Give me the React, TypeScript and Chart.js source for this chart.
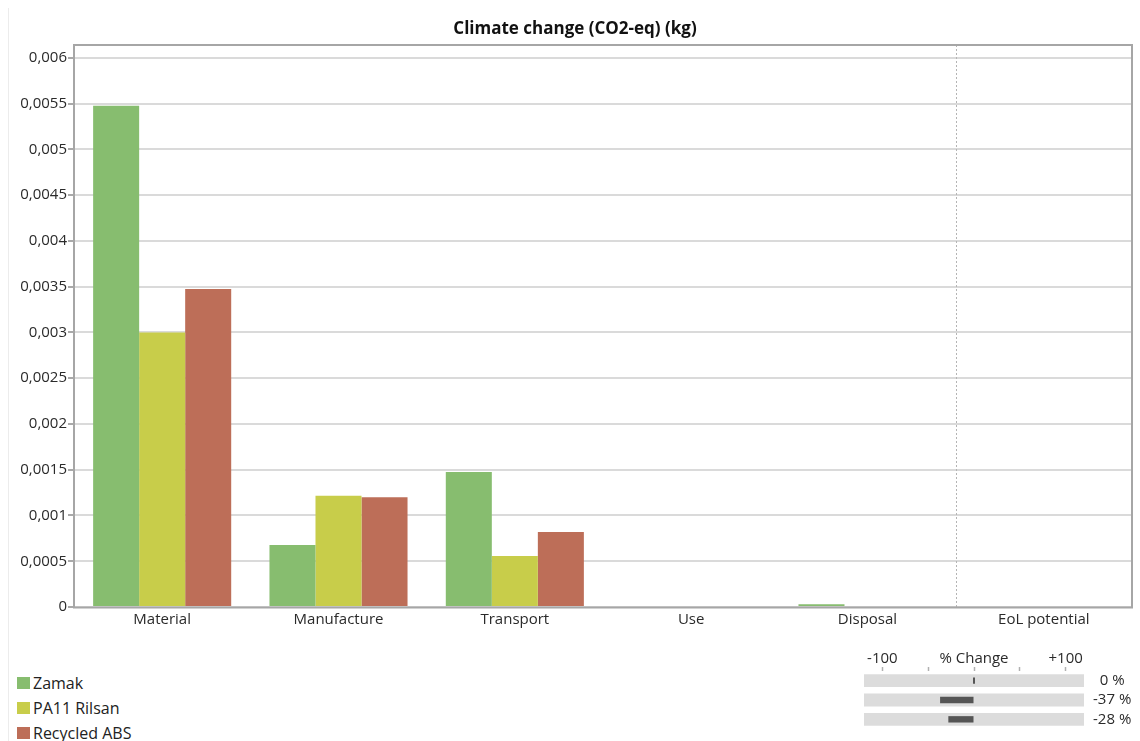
import React, { useEffect, useRef } from "react";
import { Chart, registerables } from "chart.js";

Chart.register(...registerables);

const categories = ["Material", "Manufacture", "Transport", "Use", "Disposal", "EoL potential"];
const seriesNames = ["Zamak", "PA11 Rilsan", "Recycled ABS"];
const zamak = [0.005475, 0.000678, 0.001475, 0, 0.00003, 0];
const pa11 = [0.003, 0.001216, 0.000557, 0, 0, 0];
const recycledAbs = [0.003475, 0.0012, 0.00082, 0, 0, 0];
const seriesColors = ["#87bd6f", "#c8cd4a", "#bd6e58"];
const changePct = [0, -37, -28];
const changeTicks = [-100, -50, 0, 50, 100];

const FONT = "'Open Sans', 'Noto Sans', sans-serif";

const borderPlugin = {
  id: "plotBorder",
  beforeDatasetsDraw(chart: any) {
    const { ctx, chartArea, scales } = chart;
    const x = scales.x;
    const sep = (x.getPixelForValue(4) + x.getPixelForValue(5)) / 2;
    ctx.save();
    ctx.strokeStyle = "#b4b4b4";
    ctx.lineWidth = 1;
    ctx.setLineDash([2, 2]);
    ctx.beginPath();
    ctx.moveTo(Math.round(sep) + 0.5, chartArea.top);
    ctx.lineTo(Math.round(sep) + 0.5, chartArea.bottom);
    ctx.stroke();
    ctx.restore();
  },
  afterDraw(chart: any) {
    const { ctx, chartArea } = chart;
    ctx.save();
    ctx.strokeStyle = "#a6a6a6";
    ctx.lineWidth = 2;
    ctx.strokeRect(chartArea.left, chartArea.top, chartArea.right - chartArea.left, chartArea.bottom - chartArea.top + 0.5);
    ctx.restore();
  },
};

function fmt(v: number) {
  if (v === 0) return "0";
  return String(Number(v.toFixed(4))).replace(".", ",");
}

export default function App() {
  const mainRef = useRef<HTMLCanvasElement>(null);
  const pctRef = useRef<HTMLCanvasElement>(null);

  useEffect(() => {
    document.body.style.margin = "0";
    const seriesData = [zamak, pa11, recycledAbs];
    const main = new Chart(mainRef.current!, {
      type: "bar",
      data: {
        labels: categories,
        datasets: seriesNames.map((n, i) => ({
          label: n,
          data: seriesData[i],
          backgroundColor: seriesColors[i],
          borderWidth: 0,
          barPercentage: 1,
          categoryPercentage: 0.783,
        })),
      },
      options: {
        animation: false,
        responsive: false,
        maintainAspectRatio: false,
        layout: { padding: { left: 18, right: 8, top: 0, bottom: 0 } },
        plugins: {
          legend: { display: false },
          tooltip: { enabled: false },
          title: {
            display: true,
            text: "Climate change (CO2-eq) (kg)",
            color: "#111111",
            font: { family: FONT, size: 17, weight: "bold", lineHeight: 1.2 },
            padding: { top: 19, bottom: 5.6 },
          },
        },
        scales: {
          x: {
            grid: { display: false, drawTicks: false },
            border: { display: false },
            ticks: { color: "#2a2a2a", font: { family: FONT, size: 15 }, padding: 4, maxRotation: 0, autoSkip: false },
            afterFit(scale: any) {
              scale.height = 33;
            },
          },
          y: {
            min: 0,
            max: 0.00614,
            grid: { color: "#dadada", lineWidth: 2, tickColor: "#8c8c8c", tickWidth: 1.5, tickLength: 6 },
            border: { display: false },
            ticks: {
              stepSize: 0.0005,
              includeBounds: false,
              color: "#2a2a2a",
              font: { family: FONT, size: 15 },
              padding: 1,
              callback: (v: any) => fmt(Number(v)),
            },
            afterFit(scale: any) {
              scale.width = 56;
            },
          },
        },
      },
      plugins: [borderPlugin],
    } as any);

    const pct = new Chart(pctRef.current!, {
      type: "bar",
      data: {
        labels: changePct.map((v) => `${v} %`),
        datasets: [
          {
            label: "change",
            data: changePct.map((v) => [Math.min(v, 0), Math.max(v, 0)]),
            backgroundColor: "#555555",
            borderWidth: 0,
            barPercentage: 0.33,
            categoryPercentage: 1,
            grouped: false,
            minBarLength: 2,
          },
          {
            label: "range",
            data: changePct.map(() => [-120, 120]),
            backgroundColor: "#dcdcdc",
            borderWidth: 0,
            barPercentage: 0.66,
            categoryPercentage: 1,
            grouped: false,
          },
        ],
      },
      options: {
        animation: false,
        responsive: false,
        maintainAspectRatio: false,
        indexAxis: "y",
        layout: { padding: 0 },
        plugins: { legend: { display: false }, tooltip: { enabled: false } },
        scales: {
          x: {
            type: "linear",
            position: "top",
            min: -120,
            max: 120,
            afterBuildTicks(scale: any) {
              scale.ticks = changeTicks.map((v) => ({ value: v }));
            },
            grid: { drawOnChartArea: false, drawTicks: true, tickLength: 4, tickColor: "#b0b0b0", tickWidth: 1.5 },
            border: { display: false },
            ticks: {
              autoSkip: false,
              maxRotation: 0,
              padding: -1,
              color: "#2a2a2a",
              font: { family: FONT, size: 15 },
              callback: (v: any) => (v === -100 ? "-100" : v === 100 ? "+100" : v === 0 ? "% Change" : ""),
            },
            afterFit(scale: any) {
              scale.height = 31;
            },
          },
          y: {
            position: "right",
            grid: { display: false, drawTicks: false },
            border: { display: false },
            ticks: { autoSkip: false, color: "#2a2a2a", font: { family: FONT, size: 15 }, padding: 9, crossAlign: "center" },
            afterFit(scale: any) {
              scale.width = 56;
            },
          },
        },
      },
    } as any);

    return () => {
      main.destroy();
      pct.destroy();
    };
  }, []);

  return (
    <div style={{ position: "relative", width: 1140, height: 741, overflow: "hidden", background: "#fff", fontFamily: FONT }}>
      <div style={{ position: "absolute", left: 8, top: 8, width: 1, height: 733, background: "#ececec" }} />
      <canvas ref={mainRef} width={1140} height={640} style={{ position: "absolute", left: 0, top: 0, width: 1140, height: 640 }} />
      <div style={{ position: "absolute", left: 17, top: 670 }}>
        {seriesNames.map((n, i) => (
          <div key={n} style={{ display: "flex", alignItems: "center", height: 25, fontSize: 16, color: "#222" }}>
            <span style={{ display: "inline-block", width: 13, height: 12, background: seriesColors[i], marginRight: 3 }} />
            <span>{n}</span>
          </div>
        ))}
      </div>
      <canvas ref={pctRef} width={276} height={107} style={{ position: "absolute", left: 864, top: 640, width: 276, height: 107 }} />
    </div>
  );
}
